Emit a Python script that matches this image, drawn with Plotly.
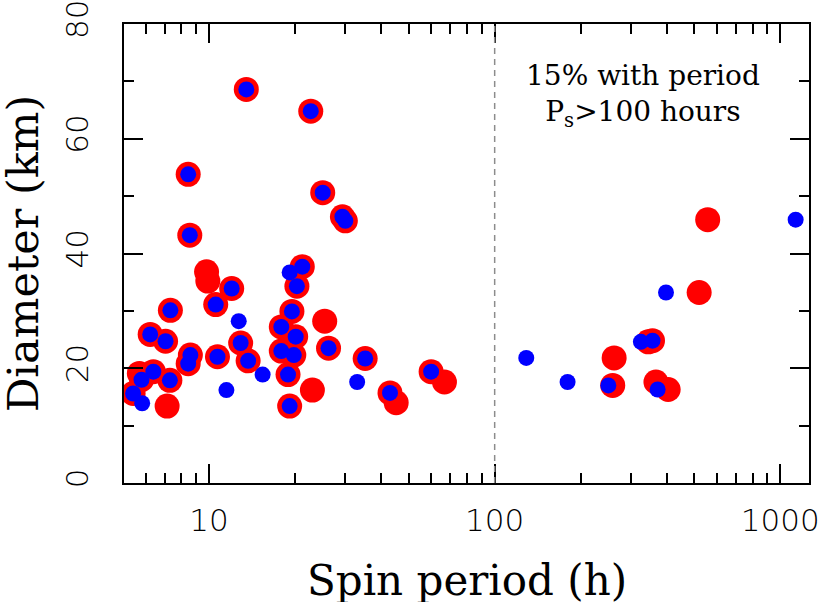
import plotly.graph_objects as go

# ---- data ----
red_period = [13.5, 22.7, 8.45, 25.0, 29.3, 30.0, 8.56, 21.2, 20.3, 12.0,
              10.55, 7.32, 19.5, 17.9, 6.22, 20.1, 7.04, 12.9, 26.2, 17.9,
              8.6, 19.8, 10.7, 35.2, 13.7, 8.45, 6.38, 18.9, 5.8, 7.29,
              5.42, 43.0, 19.15, 59.9, 357,
              9.8, 9.9, 5.7, 7.13, 25.4, 23.0, 45.2, 66.7, 262, 259,
              345, 367, 405, 520, 557]
red_diameter = [68.6, 64.8, 53.8, 50.6, 46.4, 45.7, 43.2, 37.7, 34.3, 33.9,
                31.1, 30.1, 29.9, 27.2, 25.9, 25.5, 24.7, 24.4, 23.5, 23.0,
                22.3, 22.3, 22.0, 21.7, 21.3, 20.8, 19.4, 18.9, 18.0, 17.9,
                15.6, 15.7, 13.4, 19.4, 24.8,
                36.8, 35.2, 19.1, 13.4, 28.2, 16.2, 14.0, 17.6, 21.8, 17.0,
                24.6, 17.6, 16.3, 33.2, 45.9]

blue_period = [13.5, 22.7, 8.45, 25.0, 29.3, 30.0, 8.56, 21.2, 20.3, 12.0,
               10.55, 7.32, 19.5, 17.9, 6.22, 20.1, 7.04, 12.9, 26.2, 17.9,
               8.6, 19.8, 10.7, 35.2, 13.7, 8.45, 6.38, 18.9, 5.8, 7.29,
               5.42, 43.0, 19.15, 59.9, 357,
               19.15, 12.7, 15.4, 11.5, 33.0, 5.83, 129, 180, 250, 325,
               372, 398, 1132]
blue_diameter = [68.6, 64.8, 53.8, 50.6, 46.4, 45.7, 43.2, 37.7, 34.3, 33.9,
                 31.1, 30.1, 29.9, 27.2, 25.9, 25.5, 24.7, 24.4, 23.5, 23.0,
                 22.3, 22.3, 22.0, 21.7, 21.3, 20.8, 19.4, 18.9, 18.0, 17.9,
                 15.6, 15.7, 13.4, 19.4, 24.8,
                 36.7, 28.2, 18.9, 16.2, 17.6, 13.9, 21.8, 17.6, 17.0, 24.6,
                 16.3, 33.2, 45.9]

x_tick_vals = [10, 100, 1000]
x_tick_text = ["10", "100", "1000"]
x_minor_vals = [6, 7, 8, 9, 20, 30, 40, 50, 60, 70, 80, 90,
                200, 300, 400, 500, 600, 700, 800, 900]
y_tick_vals = [0, 20, 40, 60, 80]
y_tick_text = ["0", "20", "40", "60", "80"]
y_minor_vals = [10, 30, 50, 70]
threshold_period = 100
x_title = "Spin period (h)"
y_title = "Diameter (km)"
note_text = "15% with period<br>P<sub>s</sub>>100 hours"

fig = go.Figure()
fig.add_trace(go.Scatter(x=red_period, y=red_diameter, mode="markers",
                         marker=dict(color="#ff0000", size=25, line=dict(width=0)),
                         showlegend=False, hoverinfo="skip"))
fig.add_trace(go.Scatter(x=blue_period, y=blue_diameter, mode="markers",
                         marker=dict(color="#0000ff", size=16, line=dict(width=0)),
                         showlegend=False, hoverinfo="skip"))

fig.add_shape(type="line", xref="x", yref="paper",
              x0=threshold_period, x1=threshold_period, y0=0, y1=1,
              line=dict(color="#8c8c8c", width=1.5, dash="6px,5px"))

fig.add_annotation(text=note_text, xref="paper", yref="paper",
                   x=0.758, y=0.928, xanchor="center", yanchor="top",
                   showarrow=False, align="center",
                   font=dict(family="DejaVu Serif", size=28, color="black"))

# axis titles as free text so they can sit as close to the edges as in the reference
fig.add_annotation(text=x_title, xref="paper", yref="paper",
                   x=0.5, y=-0.212, xanchor="center", yanchor="middle",
                   showarrow=False,
                   font=dict(family="DejaVu Serif", size=42, color="black"))
fig.add_annotation(text=y_title, xref="paper", yref="paper",
                   x=-0.148, y=0.5, xanchor="center", yanchor="middle",
                   textangle=-90, showarrow=False,
                   font=dict(family="DejaVu Serif", size=43, color="black"))

tick_font = dict(family="DejaVu Sans", size=31, color="black", weight=300)

axis_common = dict(ticks="inside", ticklen=19, tickwidth=2, tickcolor="black",
                   showline=True, linewidth=2, linecolor="black",
                   mirror="allticks", showgrid=False, zeroline=False,
                   tickfont=tick_font, ticklabeloverflow="allow")

fig.update_xaxes(type="log", range=[0.7021, 3.1006],
                 tickmode="array", tickvals=x_tick_vals, ticktext=x_tick_text,
                 ticklabelstandoff=9,
                 minor=dict(tickmode="array", tickvals=x_minor_vals, ticks="inside",
                            ticklen=10, tickwidth=2, tickcolor="black", showgrid=False),
                 **axis_common)
fig.update_yaxes(range=[0, 80], tickmode="array", tickvals=y_tick_vals,
                 ticktext=y_tick_text, tickangle=-90, ticklabelstandoff=22,
                 minor=dict(tickmode="array", tickvals=y_minor_vals, ticks="inside",
                            ticklen=10, tickwidth=2, tickcolor="black", showgrid=False),
                 **axis_common)

fig.update_layout(width=830, height=602,
                  margin=dict(l=124, r=21, t=24, b=119, autoexpand=False),
                  plot_bgcolor="white", paper_bgcolor="white")

# remove the browser's default 8px body margin so the figure fills the window
fig.write_html("out.html", config={"displayModeBar": False},
               post_script="document.body.style.margin='0';document.body.style.overflow='hidden';")
